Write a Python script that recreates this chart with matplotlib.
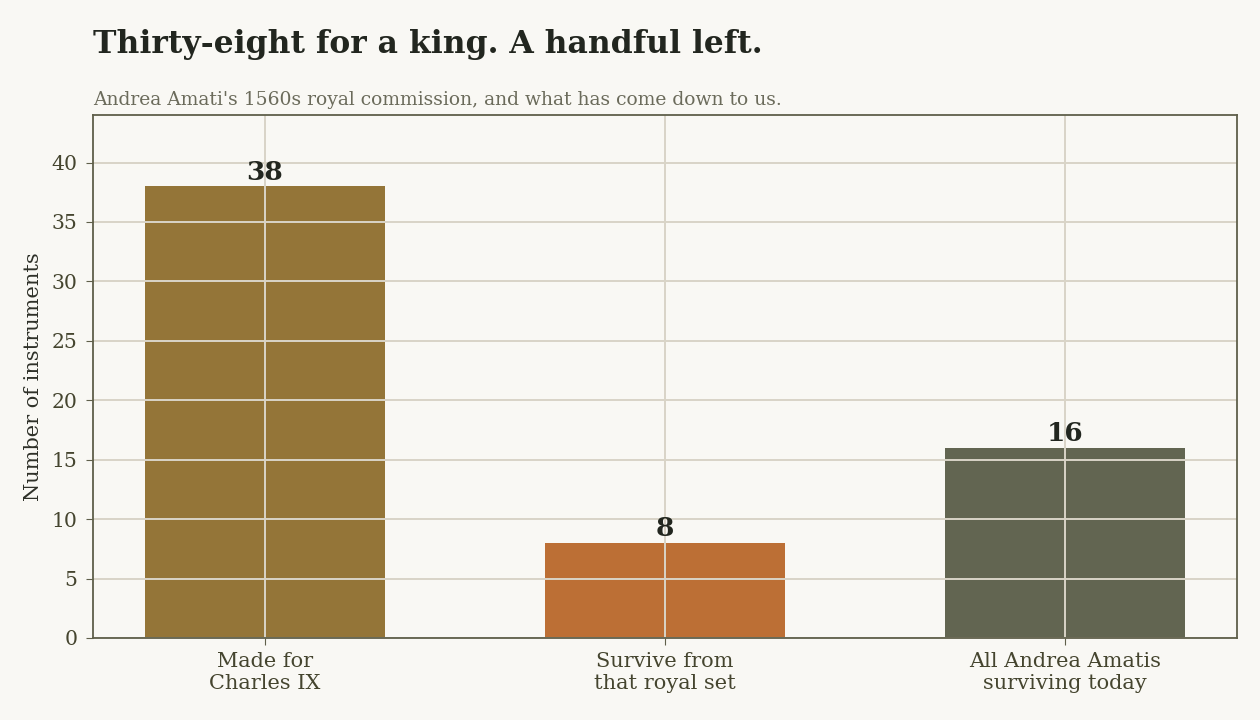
import matplotlib.pyplot as plt

# chart data
categories = ['Made for\nCharles IX', 'Survive from\nthat royal set', 'All Andrea Amatis\nsurviving today']
counts = [38, 8, 16]
bar_colors = ['#947538', '#bc6f35', '#626551']

bg = '#f9f8f4'
plt.rcParams['font.family'] = ['DejaVu Serif']

fig = plt.figure(figsize=(12.6, 7.2), dpi=100, facecolor=bg)
ax = fig.add_axes([0.0738, 0.1139, 0.9079, 0.7264])
ax.set_facecolor(bg)

x = range(len(categories))
bars = ax.bar(x, counts, width=0.6, color=bar_colors, zorder=1)

# value labels
for xi, v in zip(x, counts):
    ax.text(xi, v + 0.15, str(v), ha='center', va='bottom', fontsize=19,
            fontweight='bold', color='#22261f', zorder=3)

ax.set_ylim(0, 44)
ax.set_xticks(list(x))
ax.set_xticklabels(categories, fontsize=15, color='#45452f')
ax.tick_params(axis='y', labelsize=14.7, labelcolor='#45452f', color='#5f5f4a',
               length=5, pad=6)
ax.tick_params(axis='x', color='#5f5f4a', length=5, pad=5)
ax.set_ylabel('Number of instruments', fontsize=15, color='#2e3028', labelpad=6)

ax.grid(True, color='#d9d4c7', linewidth=1.4, zorder=2)
ax.set_axisbelow(False)
for s in ax.spines.values():
    s.set_color('#5f5f4a')
    s.set_linewidth(1.3)
    s.set_zorder(4)

fig.text(0.0738, 0.927, 'Thirty-eight for a king. A handful left.', fontsize=22.6,
         fontweight='bold', color='#22261f', ha='left', va='baseline')
fig.text(0.0738, 0.854, "Andrea Amati's 1560s royal commission, and what has come down to us.",
         fontsize=13.5, color='#6b6b5b', ha='left', va='baseline')

fig.savefig('out.png', dpi=100, facecolor=bg)
